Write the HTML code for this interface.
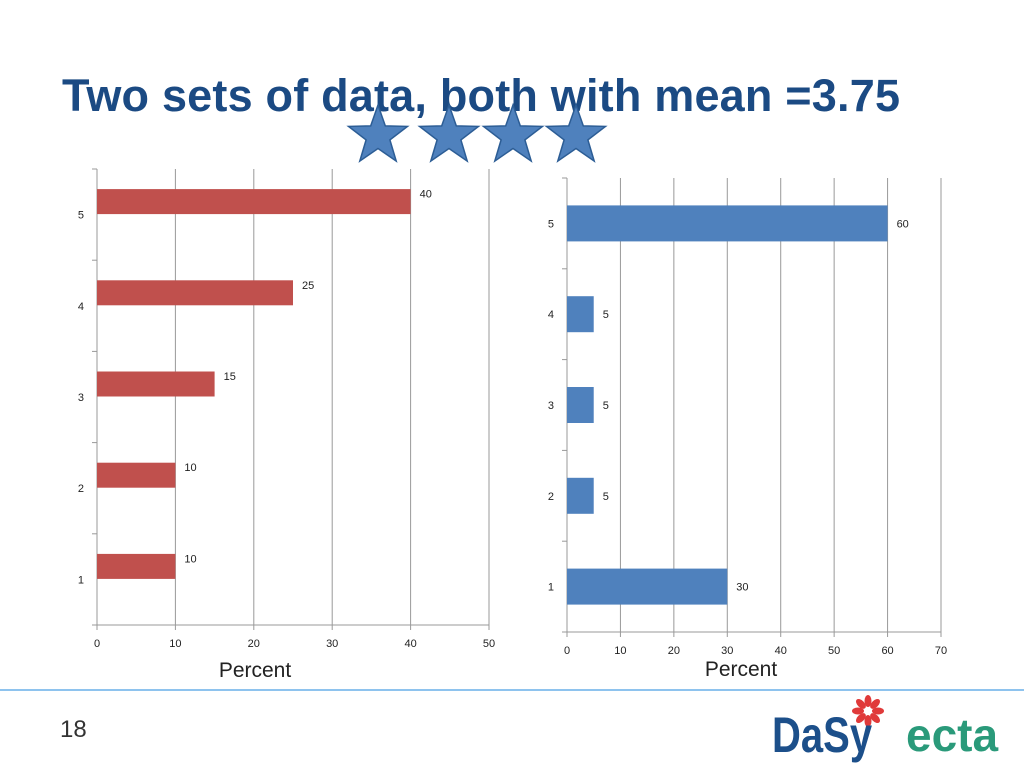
<!DOCTYPE html>
<html><head><meta charset="utf-8"><style>
body{margin:0;width:1024px;height:768px;background:#fff;overflow:hidden;position:relative;font-family:"Liberation Sans",sans-serif}
#title{position:absolute;left:62px;top:70px;font-size:45px;font-weight:bold;color:#1b4a83;letter-spacing:0.2px;white-space:nowrap;margin:0}
svg{position:absolute;left:0;top:0}
</style></head><body>
<h1 id="title">Two sets of data, both with mean =3.75</h1>
<svg id="chart" width="1024" height="768"></svg>
<div style="position:absolute;left:60px;top:716px;font-size:24px;color:#333">18</div>
<div style="position:absolute;left:772px;top:706px;font-size:50px;font-weight:bold;color:#1c4f8a;transform:scaleX(0.8);transform-origin:left;font-family:'Liberation Sans Narrow','Liberation Sans',sans-serif">DaSy</div>
<div style="position:absolute;left:906px;top:708px;font-size:46px;font-weight:bold;color:#2a9a7a">ecta</div>
<script>
const NS='http://www.w3.org/2000/svg';
const svg=document.getElementById('chart');
const categories=['1','2','3','4','5'];
const leftValues=[10,10,15,25,40];
const rightValues=[30,5,5,5,60];
const leftTicks=[0,10,20,30,40,50];
const rightTicks=[0,10,20,30,40,50,60,70];
function mk(tag,attrs,parent){const e=document.createElementNS(NS,tag);for(const k in attrs)e.setAttribute(k,attrs[k]);(parent||svg).appendChild(e);return e;}
function txt(x,y,s,size,anchor,fill){const t=mk('text',{x:x,y:y,'font-size':size,'text-anchor':anchor||'middle',fill:fill||'#222','font-family':'Liberation Sans, sans-serif'});t.textContent=s;return t;}
function chart(o){
  const g=mk('g',{});
  
  
  const xs=v=>o.x0+(v-o.min)/(o.max-o.min)*(o.x1-o.x0);
  const band=(o.y1-o.y0)/o.cats.length;
  const yc=i=>o.y1-(i+0.5)*band;
  o.ticks.forEach(t=>{
    if(t>0){const l=mk('line',{x1:xs(t),x2:xs(t),y1:o.y0,y2:o.y1,stroke:'#999','stroke-width':1},g);
    
    }
    mk('line',{x1:xs(t),x2:xs(t),y1:o.y1,y2:o.y1+5,stroke:'#999'},g);
    const tl=txt(xs(t),o.y1+22,String(t),11);
    
    
  });
  mk('line',{x1:o.x0,x2:o.x0,y1:o.y0,y2:o.y1,stroke:'#999'},g);
  mk('line',{x1:o.x0,x2:xs(o.max),y1:o.y1,y2:o.y1,stroke:'#999'},g);
  for(let i=0;i<=o.cats.length;i++){mk('line',{x1:o.x0-5,x2:o.x0,y1:o.y1-i*band,y2:o.y1-i*band,stroke:'#999'},g);}
  o.cats.forEach((c,i)=>{
    const yb=yc(i)+o.off;
    const r=mk('rect',{x:xs(0),y:yb-o.bh/2,width:xs(o.vals[i])-xs(0),height:o.bh,fill:o.color},g);
    
    
    const vl=txt(xs(o.vals[i])+o.vdx,yb+o.vdy,String(o.vals[i]),11,'start');
    
    
    const cl=txt(o.x0+o.cdx,yc(i)+4,c,11,'end');
    
    
  });
  const at=txt(o.tx,o.ty,'Percent',21);
  
  
}
chart({name:'left-chart',cats:categories,vals:leftValues,ticks:leftTicks,min:0,max:50,x0:97,x1:489,y0:169,y1:625,bh:25,off:-13,color:'#c0504d',vdx:9,vdy:-4,cdx:-13,tx:255,ty:677});
chart({name:'right-chart',cats:categories,vals:rightValues,ticks:rightTicks,min:0,max:70,x0:567,x1:941,y0:178,y1:632,bh:36,off:0,color:'#4f81bd',vdx:9,vdy:4,cdx:-13,tx:741,ty:676});
const starX=[378,449,513,576];
starX.forEach(cx=>{
  const cy=136,R=31,r=12.5;let p=[];
  for(let k=0;k<10;k++){const a=-Math.PI/2+k*Math.PI/5;const rr=k%2?r:R;p.push((cx+rr*Math.cos(a)).toFixed(1)+','+(cy+rr*Math.sin(a)).toFixed(1));}
  const s=mk('polygon',{points:p.join(' '),fill:'#4f81bd',stroke:'#2c5d95','stroke-width':1.5});
  
  
});
const fl=mk('line',{x1:0,x2:1024,y1:690,y2:690,stroke:'#8ec3ee','stroke-width':2});


const fg=mk('g',{});


for(let k=0;k<8;k++){const a=k*Math.PI/4;mk('ellipse',{cx:868+10*Math.cos(a),cy:711+10*Math.sin(a),rx:6,ry:3.5,fill:'#e03a3a',transform:`rotate(${k*45} ${868+10*Math.cos(a)} ${711+10*Math.sin(a)})`},fg);}
mk('circle',{cx:868,cy:711,r:4,fill:'#fff'},fg);
</script>
</body></html>
